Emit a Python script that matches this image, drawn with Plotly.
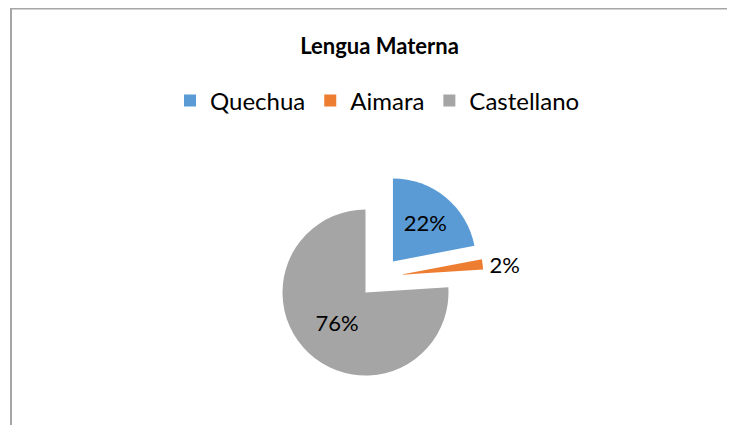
import plotly.graph_objects as go

# Data
categories = ["Quechua", "Aimara", "Castellano"]
values = [22, 2, 76]
colors = ["#5B9BD5", "#ED7D31", "#A5A5A5"]
title_text = "Lengua Materna"

W, H = 735, 425
FONT = "Lato"
OFF = 8  # page body margin offset of the figure inside the window

# pie geometry (window pixels)
cx, cy = 379.7 - OFF, 277.4 - OFF
pull = 0.25
r = 83
half = r * (1 + pull)

fig = go.Figure(
    go.Pie(
        labels=categories,
        values=values,
        marker=dict(colors=colors, line=dict(width=0)),
        sort=False,
        direction="clockwise",
        rotation=0,
        pull=[pull] * len(values),
        texttemplate="%{percent:.0%}",
        textposition=["inside", "outside", "inside"],
        insidetextorientation="horizontal",
        textfont=dict(family=FONT, size=22, color="#000000"),
        hoverinfo="label+percent",
        domain=dict(
            x=[(cx - half) / W, (cx + half) / W],
            y=[(H - cy - half) / H, (H - cy + half) / H],
        ),
    )
)

bx, by = 11 - OFF, 0.6
fig.add_shape(
    type="path",
    xref="paper", yref="paper",
    path=f"M {bx / W} 0 L {bx / W} {1 - by / H} L 1 {1 - by / H}",
    line=dict(color="#A6A6A6", width=2),
)

fig.update_layout(
    width=W,
    height=H,
    margin=dict(l=0, r=0, t=0, b=0),
    paper_bgcolor="#FFFFFF",
    plot_bgcolor="#FFFFFF",
    font=dict(family=FONT, color="#000000"),
    title=dict(
        text=title_text,
        x=(379.5 - OFF) / W,
        xanchor="center",
        y=1 - (46 - OFF) / H,
        yanchor="middle",
        yref="container",
        font=dict(family=FONT, size=22, weight="bold", color="#000000"),
    ),
    legend=dict(
        orientation="h",
        x=(383.5 - OFF - 6) / W,
        xanchor="center",
        y=1 - (101 - OFF) / H,
        yanchor="middle",
        font=dict(family=FONT, size=24, color="#000000"),
        bgcolor="rgba(0,0,0,0)",
    ),
)

fig.write_html("out.html")
